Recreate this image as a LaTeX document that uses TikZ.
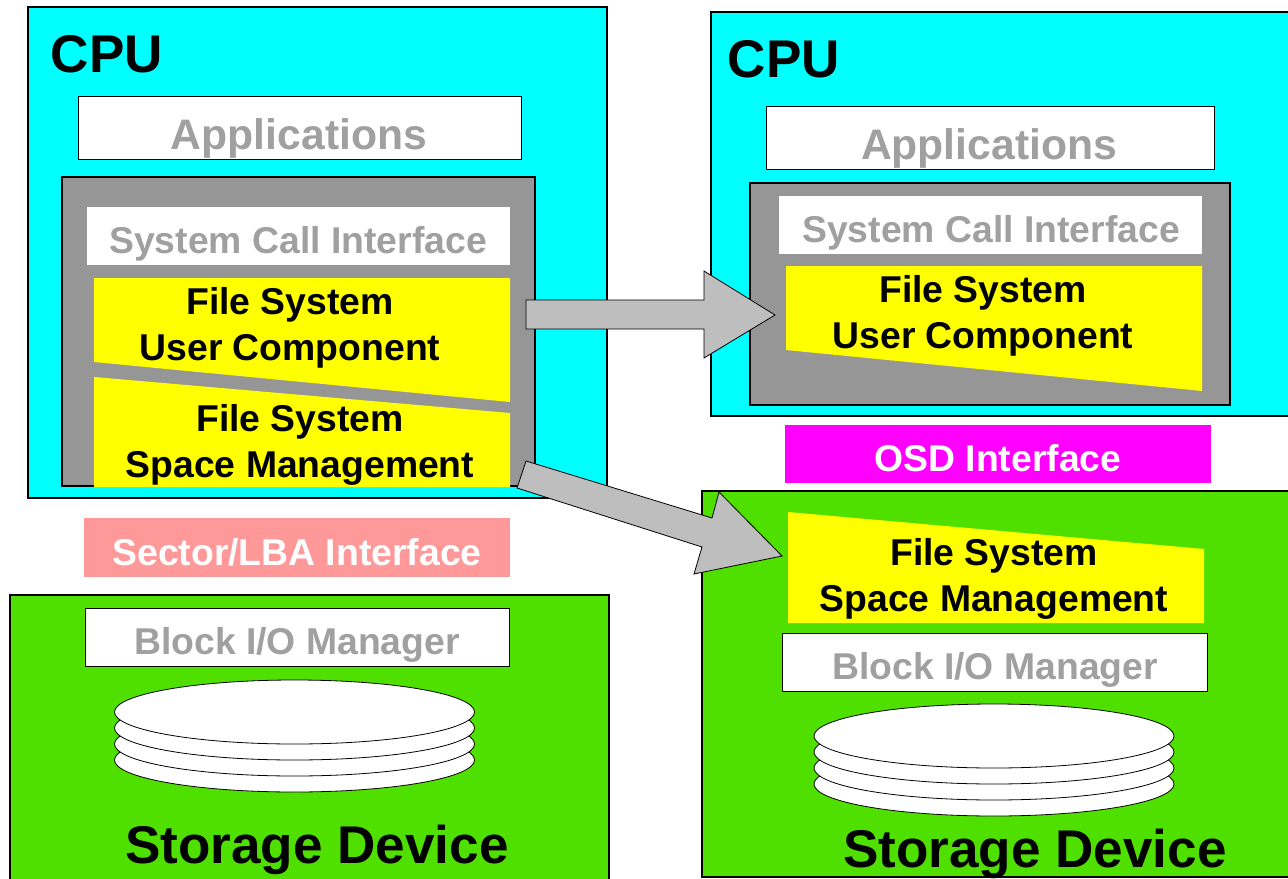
\documentclass[tikz,border=0pt]{standalone}
\usepackage{fontspec}
\setmainfont{Liberation Sans}
\definecolor{cpucol}{HTML}{00FFFF}
\definecolor{osgray}{HTML}{969696}
\definecolor{txtgray}{HTML}{A0A0A0}
\definecolor{devgreen}{HTML}{50E000}
\definecolor{fsyellow}{HTML}{FFFF00}
\definecolor{pinkbar}{HTML}{FF9999}
\definecolor{magbar}{HTML}{FF00FF}
\definecolor{arrowgray}{HTML}{BEBEBE}
\tikzset{
  panel/.style={draw=black,line width=2.2pt},
  cpupanel/.style={panel,fill=cpucol},
  devpanel/.style={panel,fill=devgreen},
  ospanel/.style={draw=black,line width=1.7pt,fill=osgray},
  whitebox/.style={draw=black,line width=0.6pt,fill=white},
  whitefill/.style={fill=white},
  fspoly/.style={fill=fsyellow},
  disk/.style={draw=black,line width=0.6pt,fill=white},
  blockarrow/.style={draw=black,line width=0.6pt,fill=arrowgray,line join=miter},
  big/.style={font=\fontsize{39.8}{46}\selectfont\bfseries,text=black,inner sep=0pt},
  lbl/.style={font=\fontsize{28}{34}\selectfont\bfseries,align=center,inner sep=0pt},
  apps/.style={font=\fontsize{32}{38}\selectfont\bfseries,text=txtgray,inner sep=0pt},
  graylbl/.style={lbl,text=txtgray},
  blacklbl/.style={lbl,text=black},
  whitelbl/.style={lbl,text=white}
}
\begin{document}
\begin{tikzpicture}[x=0.75pt,y=-0.75pt]
\useasboundingbox (0,0) rectangle (1288,878);
\clip (0,0) rectangle (1288,878);
\fill[white] (0,0) rectangle (1288,878);

% left CPU
\path[cpupanel] (28,7) rectangle (607,498);
\node[big] (cpuA) at (107,54) {CPU};
\path[whitebox] (78,96) rectangle (521,159);
\node[apps] (appsA) at (299,138) {Applications};
\path[ospanel] (62,177) rectangle (535,486);
\path[whitefill] (87,207) rectangle (510,265);
\node[graylbl] (sciA) at (298,244) {System Call Interface};
\path[fspoly] (94,278) -- (510,278) -- (510,402) -- (94,362) -- cycle;
\node[blacklbl] (fsuA) at (290,328) {File System\\User Component};
\path[fspoly] (94,377) -- (510,413) -- (510,487) -- (94,487) -- cycle;
\node[blacklbl] (fssA) at (300,445) {File System\\Space Management};

% left interface
\path[fill=pinkbar] (84,518) rectangle (510,577);
\node[whitelbl] (lba) at (297,552) {Sector/LBA Interface};

% left storage
\path[devpanel] (10,595) rectangle (609,890);
\path[whitebox] (85,608) rectangle (509,666);
\node[graylbl] (bioA) at (297,645) {Block I/O Manager};
\foreach \cy in {760,744,728,712} \path[disk] (294.5,\cy) ellipse [x radius=180,y radius=32];
\node[big] (devA) at (317,850) {Storage Device};

% right CPU
\path[cpupanel] (711,12) rectangle (1300,416);
\node[big] (cpuB) at (784,59) {CPU};
\path[whitebox] (766,106) rectangle (1214,169);
\node[apps] (appsB) at (989,148) {Applications};
\path[ospanel] (750,183) rectangle (1230,405);
\path[whitefill] (779,196) rectangle (1202,254);
\node[graylbl] (sciB) at (991,233) {System Call Interface};
\path[fspoly] (786,266) -- (1202,266) -- (1202,391) -- (786,350) -- cycle;
\node[blacklbl] (fsuB) at (983,316) {File System\\User Component};

% right interface
\path[fill=magbar] (785,425) rectangle (1211,483);
\node[whitelbl] (osd) at (998,458) {OSD Interface};

% right storage
\path[devpanel] (702,491) rectangle (1300,877);
\path[fspoly] (788,512) -- (1204,549) -- (1204,623) -- (788,623) -- cycle;
\node[blacklbl] (fssB) at (994,579) {File System\\Space Management};
\path[whitebox] (782,633) rectangle (1207,691);
\node[graylbl] (bioB) at (995,670) {Block I/O Manager};
\foreach \cy in {784,768,752,736} \path[disk] (994,\cy) ellipse [x radius=180,y radius=32];
\node[big] (devB) at (1035,854) {Storage Device};

% block arrows
\path[blockarrow] (526,300) -- (704,300) -- (704,271) -- (775,315) -- (704,358) -- (704,329) -- (526,329) -- cycle;
\path[blockarrow] (526,461) -- (712,518) -- (719,492) -- (782,556) -- (694,574) -- (702,547) -- (517,488) -- cycle;
\end{tikzpicture}
\end{document}
